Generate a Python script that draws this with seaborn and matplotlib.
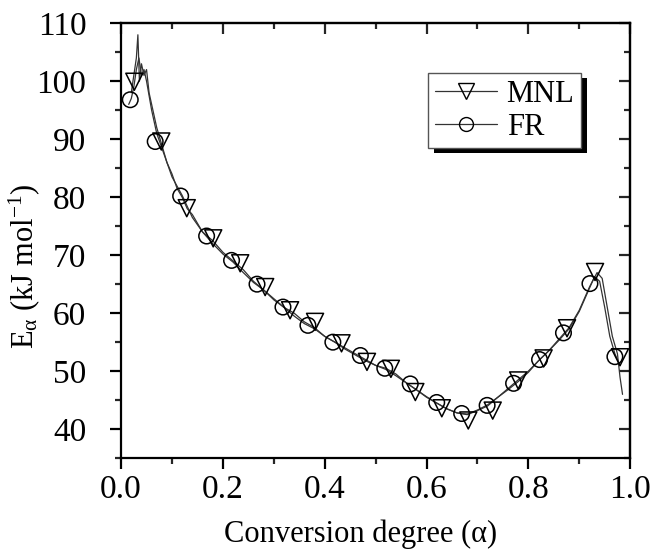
import matplotlib
matplotlib.use("Agg")
import matplotlib.pyplot as plt
from matplotlib.lines import Line2D
from matplotlib.patches import Rectangle
from matplotlib.ticker import MultipleLocator, FormatStrFormatter
import seaborn as sns

# ---- data ----
mnl_line_x = [0.02, 0.025, 0.03, 0.033, 0.036, 0.04, 0.045, 0.05, 0.055, 0.06, 0.07, 0.08, 0.09, 0.10,
              0.11, 0.12, 0.13, 0.14, 0.15, 0.16, 0.18, 0.20, 0.22, 0.24, 0.26, 0.28, 0.30, 0.32,
              0.34, 0.36, 0.38, 0.40, 0.42, 0.44, 0.46, 0.48, 0.50, 0.52, 0.54, 0.56, 0.58, 0.60,
              0.62, 0.64, 0.66, 0.68, 0.70, 0.72, 0.74, 0.76, 0.78, 0.80, 0.82, 0.84, 0.86, 0.88,
              0.90, 0.92, 0.935, 0.945, 0.955, 0.965, 0.975, 0.98, 0.985]
mnl_line_y = [98, 101, 104, 108, 100, 103, 101, 102, 98, 96, 92, 89, 86, 84,
              81.5, 80, 78, 77, 75.5, 74, 72.5, 70.5, 69, 67.5, 65.5, 64, 62.5, 61,
              60, 58.5, 57.5, 56, 55, 54, 53, 52, 51, 50.5, 49.5, 48, 46.8, 45.5,
              44.5, 43.5, 42.8, 42.5, 43.2, 44, 45.5, 47, 48.5, 50, 51.8, 53.5, 55.5, 57.5,
              60.5, 64.5, 67, 66, 61, 56, 53, 49, 46]
fr_line_x = [0.015, 0.02, 0.025, 0.03, 0.035, 0.04, 0.045, 0.05, 0.06, 0.07, 0.08, 0.09, 0.10,
             0.12, 0.14, 0.16, 0.18, 0.20, 0.22, 0.24, 0.26, 0.28, 0.30, 0.32, 0.34, 0.36,
             0.38, 0.40, 0.42, 0.44, 0.46, 0.48, 0.50, 0.52, 0.54, 0.56, 0.58, 0.60, 0.62,
             0.64, 0.66, 0.68, 0.70, 0.72, 0.74, 0.76, 0.78, 0.80, 0.82, 0.84, 0.86, 0.88,
             0.90, 0.92, 0.93, 0.94, 0.95, 0.96, 0.97, 0.98]
fr_line_y = [96, 97, 99, 102, 104, 101, 102, 100, 95, 91, 88.5, 86, 83.5,
             80.3, 76.5, 74, 72, 70.2, 68.8, 67, 65.3, 64, 62.3, 61, 59.5, 58.2,
             57.3, 56, 55, 53.8, 52.8, 51.8, 51, 50.3, 49.2, 48, 46.8, 45.6, 44.5,
             43.5, 42.8, 42.6, 43.3, 44.2, 45.5, 46.8, 48.2, 49.8, 51.8, 53.5, 55.3, 57.3,
             60.3, 64.3, 66.3, 65.5, 61, 56, 53, 51]

mnl_mark_x = [0.026, 0.079, 0.129, 0.181, 0.234, 0.283, 0.332, 0.381, 0.433, 0.483,
              0.53, 0.578, 0.63, 0.682, 0.73, 0.78, 0.83, 0.876, 0.931, 0.98]
mnl_mark_y = [99.9, 89.6, 78.1, 72.9, 68.6, 64.5, 60.5, 58.5, 54.8, 51.6,
              50.4, 46.4, 43.6, 41.5, 43.2, 48.4, 52.2, 57.4, 67.1, 52.4]
fr_mark_x = [0.018, 0.067, 0.117, 0.168, 0.217, 0.267, 0.318, 0.367, 0.416, 0.47,
             0.518, 0.568, 0.62, 0.669, 0.719, 0.771, 0.822, 0.869, 0.921, 0.97]
fr_mark_y = [96.8, 89.6, 80.2, 73.3, 69.1, 65.0, 61.05, 57.9, 55.0, 52.7,
             50.5, 47.8, 44.6, 42.7, 44.1, 47.9, 52.0, 56.6, 65.1, 52.5]

series_names = ["MNL", "FR"]
x_label = "Conversion degree (\u03b1)"
y_label = r"E$_{\alpha}$ (kJ mol$^{-1}$)"

# ---- style ----
sns.set_style("white")
plt.rcParams["font.family"] = ["Liberation Serif", "DejaVu Serif"]
plt.rcParams["mathtext.fontset"] = "custom"
plt.rcParams["mathtext.rm"] = "Liberation Serif"
plt.rcParams["mathtext.it"] = "Liberation Serif"
plt.rcParams["mathtext.default"] = "regular"
plt.rcParams["text.color"] = "black"
plt.rcParams["axes.labelcolor"] = "black"

fig = plt.figure(figsize=(6.51, 5.52), dpi=100)
ax = fig.add_axes([0.186, 0.170, 0.782, 0.788])

line_kw = dict(color="#333333", linewidth=0.9, sort=False, estimator=None, ax=ax)
sns.lineplot(x=mnl_line_x, y=mnl_line_y, **line_kw)
sns.lineplot(x=fr_line_x, y=fr_line_y, **line_kw)

sns.scatterplot(x=mnl_mark_x, y=mnl_mark_y, marker="v", s=150, facecolor="none",
                edgecolor="black", linewidth=1.1, ax=ax, zorder=3)
sns.scatterplot(x=fr_mark_x, y=fr_mark_y, marker="o", s=125, facecolor="none",
                edgecolor="black", linewidth=1.1, ax=ax, zorder=3)

ax.set_xlim(0.0, 1.0)
ax.set_ylim(35, 110)
ax.xaxis.set_major_locator(MultipleLocator(0.2))
ax.xaxis.set_minor_locator(MultipleLocator(0.1))
ax.yaxis.set_major_locator(MultipleLocator(10))
ax.yaxis.set_minor_locator(MultipleLocator(5))
ax.xaxis.set_major_formatter(FormatStrFormatter("%.1f"))

for sp in ax.spines.values():
    sp.set_linewidth(1.6)
    sp.set_color("black")

ax.tick_params(which="major", direction="out", length=8, width=1.6, labelsize=24,
               colors="black", bottom=True, left=True)
ax.tick_params(which="minor", direction="out", length=4.5, width=1.6,
               bottom=True, left=True)
ax.tick_params(axis="x", which="major", pad=4)
ax.tick_params(axis="y", which="major", pad=17)

# inward ticks on the top and right
top = ax.secondary_xaxis("top")
top.xaxis.set_major_locator(MultipleLocator(0.2))
top.xaxis.set_minor_locator(MultipleLocator(0.1))
top.tick_params(which="major", direction="in", length=8, width=1.6, labeltop=False)
top.tick_params(which="minor", direction="in", length=4.5, width=1.6)
top.spines["top"].set_linewidth(1.6)
right = ax.secondary_yaxis("right")
right.yaxis.set_major_locator(MultipleLocator(10))
right.yaxis.set_minor_locator(MultipleLocator(5))
right.tick_params(which="major", direction="in", length=8, width=1.6, labelright=False)
right.tick_params(which="minor", direction="in", length=4.5, width=1.6)
right.spines["right"].set_linewidth(1.6)

ax.set_xlabel(x_label, fontsize=22, color="black")
ax.set_ylabel(y_label, fontsize=22, color="black")
ax.xaxis.set_label_coords(0.47, -0.14)
ax.yaxis.set_label_coords(-0.155, 0.44)

handles = [
    Line2D([], [], color="#333333", linewidth=0.9, marker="v", markersize=12,
           markerfacecolor="none", markeredgecolor="black", markeredgewidth=1.0),
    Line2D([], [], color="#333333", linewidth=0.9, marker="o", markersize=10,
           markerfacecolor="none", markeredgecolor="black", markeredgewidth=1.0),
]
leg = ax.legend(handles, series_names, loc="upper left", bbox_to_anchor=(0.603, 0.885),
                fontsize=22, frameon=True, fancybox=False, edgecolor="#555555",
                facecolor="white", framealpha=1.0,
                handlelength=2.05, handletextpad=0.3, borderpad=0.22, labelspacing=0.12,
                borderaxespad=0.0)
leg.get_frame().set_linewidth(1.0)
leg.set_zorder(10)

fig.canvas.draw()
bb = leg.get_window_extent().transformed(ax.transAxes.inverted())
dx, dy = 6 / (0.782 * 651), 5 / (0.788 * 552)
ax.add_patch(Rectangle((bb.x0 + dx, bb.y0 - dy), bb.width, bb.height,
                       transform=ax.transAxes, facecolor="black", edgecolor="none",
                       zorder=9, clip_on=False))

fig.savefig("out.png", dpi=100)
